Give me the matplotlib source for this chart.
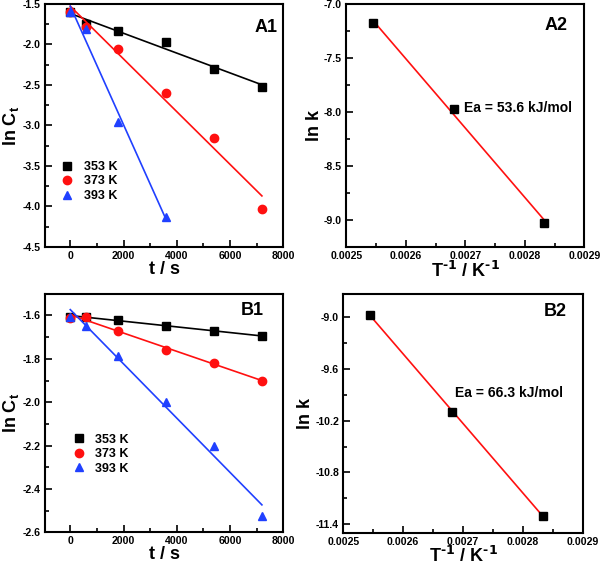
import matplotlib
matplotlib.use("Agg")
import matplotlib.pyplot as plt
from matplotlib.ticker import MultipleLocator
import numpy as np

plt.rcParams["font.family"] = ["Liberation Sans", "DejaVu Sans"]
plt.rcParams["font.weight"] = "bold"
plt.rcParams["axes.labelweight"] = "bold"
plt.rcParams["axes.unicode_minus"] = False
plt.rcParams["mathtext.default"] = "regular"

# data
temps = ["353 K", "373 K", "393 K"]
colors = ["black", "#ff1010", "#2040ff"]
markers = ["s", "o", "^"]
t = [0, 600, 1800, 3600, 5400, 7200]

a1_353 = [-1.60, -1.75, -1.84, -1.97, -2.30, -2.52]
a1_373 = [-1.60, -1.78, -2.06, -2.60, -3.15, -4.03]
a1_393 = [-1.60, -1.81, -2.96, -4.13]

b1_353 = [-1.605, -1.605, -1.62, -1.65, -1.67, -1.695]
b1_373 = [-1.61, -1.605, -1.67, -1.76, -1.82, -1.90]
b1_393 = [-1.605, -1.65, -1.785, -2.00, -2.20, -2.525]

inv_T = [1 / 393, 1 / 373, 1 / 353]
a2_lnk = [-7.18, -7.97, -9.03]
b2_lnk = [-8.97, -10.10, -11.30]

ea_a = "Ea = 53.6 kJ/mol"
ea_b = "Ea = 66.3 kJ/mol"


def style(ax):
    for s in ax.spines.values():
        s.set_linewidth(1.5)
    ax.tick_params(which="both", direction="in", top=False, right=False,
                   labelsize=7.6, width=1.2, pad=3)
    ax.tick_params(which="major", length=5)
    ax.tick_params(which="minor", length=3)
    for lab in ax.get_xticklabels() + ax.get_yticklabels():
        lab.set_fontweight("bold")


def kinetics(ax, series, ylim, ymaj, ymin, label, label_xy, leg_anchor):
    for ys, c, m, name in zip(series, colors, markers, temps):
        tt = t[:len(ys)]
        p = np.polyfit(tt, ys, 1)
        xs = np.array([tt[0], tt[-1]])
        ax.plot(xs, np.polyval(p, xs), color=c, lw=1.2)
        ax.plot(tt, ys, ls="none", marker=m, color=c, ms=6, label=name)
    ax.set_xlim(-950, 8000)
    ax.set_ylim(*ylim)
    ax.xaxis.set_major_locator(MultipleLocator(2000))
    ax.xaxis.set_minor_locator(MultipleLocator(1000))
    ax.yaxis.set_major_locator(MultipleLocator(ymaj))
    ax.yaxis.set_minor_locator(MultipleLocator(ymin))
    ax.set_xlabel("t / s", fontsize=13, labelpad=0)
    ax.set_ylabel("ln C$_{t}$", fontsize=13, labelpad=1)
    ax.text(label_xy[0], label_xy[1], label, transform=ax.transAxes,
            ha="right", va="center", fontsize=13, fontweight="bold")
    ax.legend(loc="upper left", bbox_to_anchor=leg_anchor, frameon=False,
              handlelength=1.0, handletextpad=0.8, labelspacing=0.2,
              prop={"size": 9, "weight": "bold"})
    style(ax)


def arrhenius(ax, lnk, ylim, ymaj, ymin, label, label_xy, ea, ea_xy, xpad):
    p = np.polyfit(inv_T, lnk, 1)
    xs = np.array([inv_T[0], inv_T[-1]])
    ax.plot(xs, np.polyval(p, xs), color="#ff1010", lw=1.2)
    ax.plot(inv_T, lnk, ls="none", marker="s", color="black", ms=6)
    ax.set_xlim(0.0025, 0.0029)
    ax.set_ylim(*ylim)
    ax.xaxis.set_major_locator(MultipleLocator(0.0001))
    ax.xaxis.set_minor_locator(MultipleLocator(0.00005))
    ax.yaxis.set_major_locator(MultipleLocator(ymaj))
    ax.yaxis.set_minor_locator(MultipleLocator(ymin))
    ax.xaxis.set_major_formatter(plt.FormatStrFormatter("%.4f"))
    ax.yaxis.set_major_formatter(plt.FormatStrFormatter("%.1f"))
    ax.set_xlabel("T$^{\\text{-1}}$ / K$^{\\text{-1}}$", fontsize=13,
                  labelpad=xpad)
    ax.set_ylabel("ln k", fontsize=13, labelpad=1)
    ax.text(label_xy[0], label_xy[1], label, transform=ax.transAxes,
            ha="right", va="center", fontsize=13, fontweight="bold")
    ax.text(ea_xy[0], ea_xy[1], ea, ha="left", va="center", fontsize=10,
            fontweight="bold")
    style(ax)


fig = plt.figure(figsize=(6, 5.65), dpi=100)
ax1 = fig.add_axes([0.075, 0.563, 0.397, 0.430])
ax2 = fig.add_axes([0.577, 0.563, 0.397, 0.430])
ax3 = fig.add_axes([0.075, 0.058, 0.397, 0.422])
ax4 = fig.add_axes([0.572, 0.057, 0.400, 0.423])

kinetics(ax1, [a1_353, a1_373, a1_393], (-4.5, -1.5), 0.5, 0.25, "A1",
         (0.975, 0.905), (0.02, 0.40))
arrhenius(ax2, a2_lnk, (-9.25, -7.0), 0.5, 0.25, "A2", (0.93, 0.91),
          ea_a, (0.002697, -7.96), 0)
kinetics(ax3, [b1_353, b1_373, b1_393], (-2.6, -1.5), 0.2, 0.1, "B1",
         (0.92, 0.93), (0.07, 0.46))
arrhenius(ax4, b2_lnk, (-11.5, -8.73), 0.6, 0.3, "B2", (0.93, 0.925),
          ea_b, (0.002687, -9.88), -1)

fig.savefig("out.png", dpi=100)
